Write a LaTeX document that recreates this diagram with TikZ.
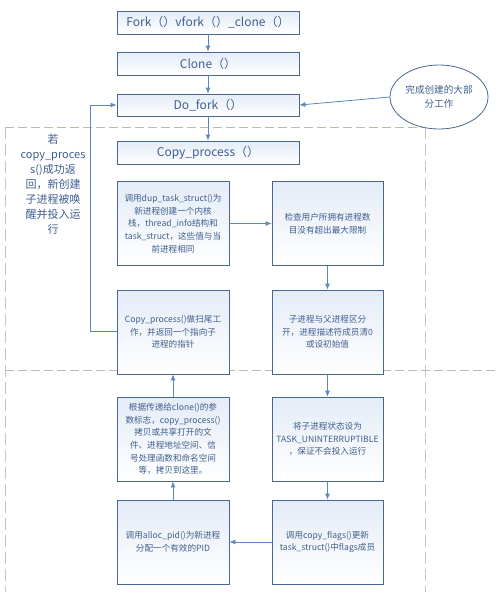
\documentclass[tikz,border=0pt]{standalone}
\usepackage{fontspec}
\setmainfont{Noto Sans CJK SC}
\usetikzlibrary{arrows.meta,shapes.geometric}
\definecolor{boxline}{HTML}{4A6790}
\definecolor{boxtop}{HTML}{E4ECF7}
\definecolor{txt}{HTML}{3F5F8F}
\definecolor{arr}{HTML}{5A88C0}
\definecolor{dashv}{HTML}{C4C4C4}
\definecolor{dashh}{HTML}{C2B9AA}
\tikzset{
  every node/.style={text=txt},
  box/.style={draw=boxline, line width=0.8pt, top color=boxtop, bottom color=white, inner sep=1pt},
  topbox/.style={box, minimum width=182pt, font=\fontsize{12}{14}\selectfont},
  smallbox/.style={box, minimum height=84pt, align=center, font=\fontsize{8.6}{12.7}\selectfont},
  lbox/.style={smallbox, minimum width=112pt},
  rbox/.style={smallbox, minimum width=111pt},
  arrow/.style={draw=arr, line width=0.8pt, -{Latex[length=6pt,width=5pt]}},
  vdash/.style={draw=dashv, line width=0.8pt, dash pattern=on 12pt off 5pt},
  hdash/.style={draw=dashh, line width=0.8pt, dash pattern=on 9pt off 4pt},
}
\begin{document}
\begin{tikzpicture}[x=1pt,y=-1pt]
\useasboundingbox[fill=white] (0,0) rectangle (497,592);
% dashed frame
\draw[vdash] (5,127) -- (5,592);
\draw[vdash] (425,127) -- (425,592);
\draw[hdash] (5,127) -- (425,127);
\draw[hdash] (5,370) -- (497,370);
% top boxes
\node[topbox, minimum height=23pt] (fork) at (208,22.5) {Fork（）vfork（）\_clone（）};
\node[topbox, minimum height=23pt] (clone) at (208,63.5) {Clone（）};
\node[topbox, minimum height=22pt] (dofork) at (208,105) {Do\_fork（）};
\node[topbox, minimum height=23pt] (copyp) at (208,152.5) {Copy\_process（）};
% ellipse
\node[ellipse, draw=boxline, fill=white, line width=0.8pt, minimum width=98pt, minimum height=64pt, inner sep=0pt, align=center, font=\fontsize{9.6}{14}\selectfont] (ell) at (439,97) {完成创建的大部\\分工作};
% left column
\node[lbox] (a) at (173,223.5) {调用dup\_task\_struct()为\\新进程创建一个内核\\栈，thread\_info结构和\\task\_struct，这些值与当\\前进程相同};
\node[lbox] (b) at (173,332) {Copy\_process()做扫尾工\\作，并返回一个指向子\\进程的指针};
\node[lbox] (c) at (173,439) {根据传递给clone()的参\\数标志，copy\_process()\\拷贝或共享打开的文\\件、进程地址空间、信\\号处理函数和命名空间\\等，拷贝到这里。};
\node[lbox] (d) at (173,542) {调用alloc\_pid()为新进程\\分配一个有效的PID};
% right column
\node[rbox] (e) at (327.5,223.5) {检查用户所拥有进程数\\目没有超出最大限制};
\node[rbox] (f) at (327.5,332) {子进程与父进程区分\\开，进程描述符成员清0\\或设初始值};
\node[rbox] (g) at (327.5,439) {将子进程状态设为\\TASK\_UNINTERRUPTIBLE\\，保证不会投入运行};
\node[rbox] (h) at (327.5,542) {调用copy\_flags()更新\\task\_struct()中flags成员};
% left note
\node[align=center, font=\fontsize{11}{15}\selectfont] (note) at (53,184) {若\\copy\_proces\\s()成功返\\回，新创建\\子进程被唤\\醒并投入运\\行};
% arrows
\draw[arrow] (fork) -- (clone);
\draw[arrow] (clone) -- (dofork);
\draw[arrow] (dofork) -- (copyp);
\draw[arrow] (ell.west) -- (dofork.east);
\draw[arrow] (a) -- (e);
\draw[arrow] (e) -- (f);
\draw[arrow] (f) -- (g);
\draw[arrow] (g) -- (h);
\draw[arrow] (h) -- (d);
\draw[arrow] (d) -- (c);
\draw[arrow] (c) -- (b);
\coordinate (lb) at (90,331);
\coordinate (lt) at (90,105);
\draw[arrow] (b.west |- lb) -- (lb) -- (lt) -- (dofork.west);
\end{tikzpicture}
\end{document}
